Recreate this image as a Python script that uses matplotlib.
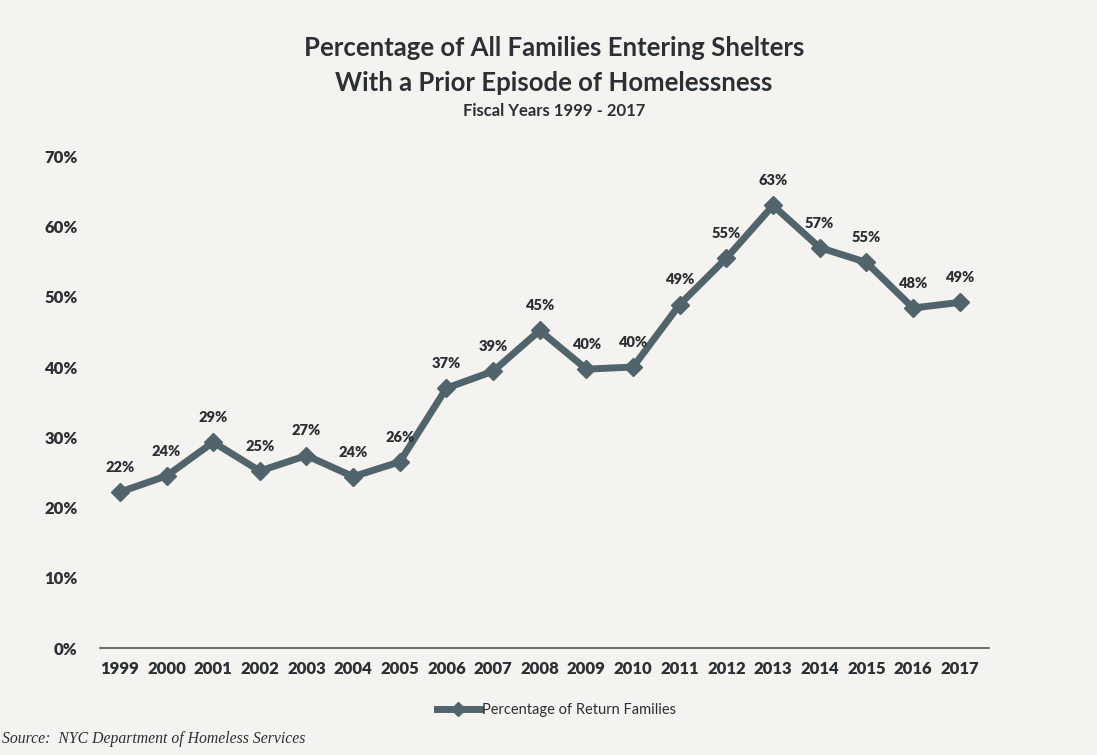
import matplotlib.pyplot as plt
from matplotlib.ticker import FuncFormatter

years = [1999, 2000, 2001, 2002, 2003, 2004, 2005, 2006, 2007, 2008,
         2009, 2010, 2011, 2012, 2013, 2014, 2015, 2016, 2017]
values = [22.2, 24.5, 29.3, 25.2, 27.4, 24.4, 26.5, 37.0, 39.4, 45.2,
          39.7, 40.0, 48.9, 55.5, 63.0, 57.0, 54.9, 48.4, 49.2]
labels = ['22%', '24%', '29%', '25%', '27%', '24%', '26%', '37%', '39%', '45%',
          '40%', '40%', '49%', '55%', '63%', '57%', '55%', '48%', '49%']

bg = '#f5f3f0'
line_col = '#51646b'
txt = '#2b3034'

plt.rcParams['font.family'] = ['Lato', 'DejaVu Sans']

fig = plt.figure(figsize=(10.97, 7.55), dpi=100, facecolor=bg)
ax = fig.add_axes([0.091, 0.1417, 0.811, 0.6513], facecolor=bg)

ax.plot(years, values, color=line_col, lw=5, marker='D', ms=9.5,
        label='Percentage of Return Families')
for x, y, s in zip(years, values, labels):
    ax.annotate(s, (x, y), xytext=(0, 13), textcoords='offset points',
                ha='center', va='bottom', fontsize=10.5, fontweight='heavy', color=txt)

ax.set_ylim(0, 70)
ax.set_xlim(1998.57, 2017.64)
ax.set_yticks(range(0, 71, 10))
ax.yaxis.set_major_formatter(FuncFormatter(lambda v, p: f'{int(v)}%'))
ax.set_xticks(years)
ax.tick_params(length=0, labelsize=12, colors=txt)
ax.tick_params(axis='x', pad=9)
ax.tick_params(axis='y', pad=16)
for lab in ax.get_xticklabels() + ax.get_yticklabels():
    lab.set_fontweight('heavy')
for side in ['top', 'right', 'left']:
    ax.spines[side].set_visible(False)
ax.spines['bottom'].set_color('#555555')
ax.spines['bottom'].set_linewidth(1.2)

fig.text(0.505, 0.937, 'Percentage of All Families Entering Shelters',
         ha='center', va='center', fontsize=18.5, fontweight='bold', color=txt)
fig.text(0.505, 0.890, 'With a Prior Episode of Homelessness',
         ha='center', va='center', fontsize=18.5, fontweight='bold', color=txt)
fig.text(0.505, 0.853, 'Fiscal Years 1999 - 2017',
         ha='center', va='center', fontsize=12, fontweight='bold', color=txt)

leg = ax.legend(loc='upper center', bbox_to_anchor=(0.513, -0.085), frameon=False,
                fontsize=10.5, handlelength=3, handletextpad=0.1, markerscale=0.7)
for t in leg.get_texts():
    t.set_color(txt)

fig.text(0.002, 0.016, 'Source:  NYC Department of Homeless Services',
         fontsize=11.3, style='italic', family='Liberation Serif', color=txt)

fig.savefig('out.png', dpi=100, facecolor=bg)
